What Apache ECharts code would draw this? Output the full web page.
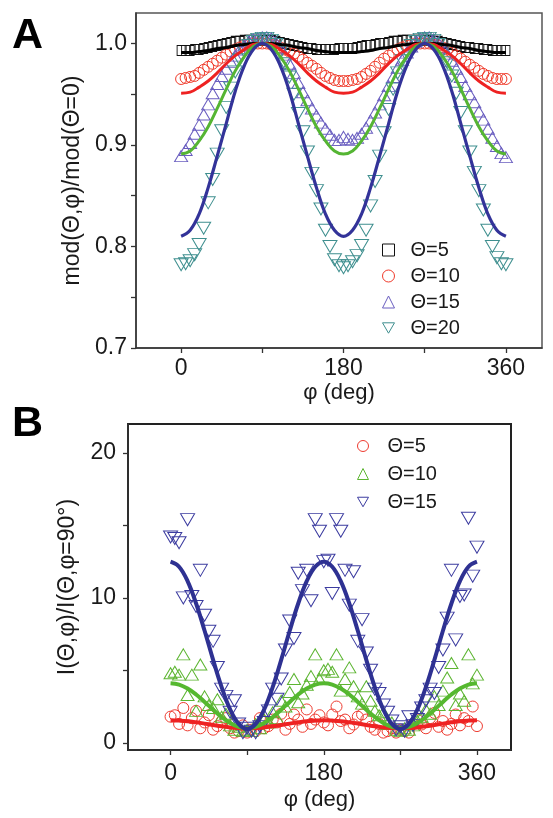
<!DOCTYPE html>
<html>
<head>
<meta charset="utf-8">
<script src="https://cdn.jsdelivr.net/npm/echarts@6/dist/echarts.min.js"></script>
<style>
html,body{margin:0;padding:0;background:#fff;}
#chart{width:553px;height:818px;}
</style>
</head>
<body>
<div id="chart"></div>
<script>
// ---------- data ----------
const phiData = [0,5,10,15,20,25,30,35,40,45,50,55,60,65,70,75,80,85,90,95,100,105,110,115,120,125,130,135,140,145,150,155,160,165,170,175,180,185,190,195,200,205,210,215,220,225,230,235,240,245,250,255,260,265,270,275,280,285,290,295,300,305,310,315,320,325,330,335,340,345,350,355,360];
const phiFit = [0,10,20,30,40,50,60,70,80,90,100,110,120,130,140,150,160,170,180,190,200,210,220,230,240,250,260,270,280,290,300,310,320,330,340,350,360];

// Panel A measured ratios
const aTheta5 = [0.993,0.993,0.993,0.994,0.994,0.995,0.996,0.997,0.998,0.999,1.000,1.001,1.002,1.002,1.003,1.003,1.003,1.003,1.003,
  1.003,1.003,1.002,1.001,1.000,0.999,0.998,0.997,0.996,0.995,0.995,0.994,0.994,0.994,0.994,0.994,0.995,0.995,
  0.995,0.995,0.996,0.997,0.998,0.998,0.999,1.000,1.000,1.001,1.002,1.002,1.003,1.003,1.003,1.003,1.003,1.003,
  1.003,1.002,1.002,1.001,1.000,0.999,0.998,0.997,0.996,0.996,0.995,0.995,0.994,0.994,0.993,0.993,0.993,0.993];
const aTheta10 = [0.965,0.966,0.967,0.968,0.971,0.974,0.977,0.980,0.983,0.986,0.989,0.992,0.994,0.996,0.998,0.999,1.000,1.000,1.000,
  1.000,0.999,0.998,0.996,0.994,0.992,0.990,0.987,0.984,0.981,0.978,0.975,0.971,0.968,0.966,0.964,0.963,0.963,
  0.963,0.964,0.965,0.967,0.970,0.973,0.977,0.981,0.985,0.988,0.991,0.994,0.996,0.998,0.999,1.000,1.000,1.000,
  1.000,0.999,0.998,0.996,0.994,0.991,0.988,0.985,0.982,0.979,0.976,0.973,0.970,0.968,0.966,0.965,0.965,0.965];
const aTheta15 = [0.889,0.895,0.902,0.911,0.920,0.930,0.940,0.951,0.960,0.968,0.975,0.982,0.988,0.994,0.998,1.002,1.004,1.005,1.006,
  1.006,1.005,1.001,0.996,0.989,0.980,0.971,0.961,0.952,0.944,0.936,0.929,0.922,0.916,0.910,0.905,0.905,0.908,
  0.906,0.905,0.907,0.911,0.917,0.924,0.932,0.940,0.949,0.958,0.967,0.976,0.984,0.991,0.997,1.002,1.005,1.006,
  1.006,1.004,1.001,0.996,0.990,0.983,0.975,0.967,0.958,0.950,0.942,0.933,0.925,0.916,0.907,0.899,0.892,0.888];
const aTheta20 = [0.782,0.783,0.786,0.792,0.802,0.818,0.843,0.866,0.891,0.914,0.937,0.956,0.972,0.984,0.992,0.998,1.002,1.004,1.005,
  1.005,1.003,0.999,0.991,0.980,0.967,0.950,0.931,0.913,0.893,0.872,0.855,0.837,0.816,0.800,0.787,0.781,0.779,
  0.781,0.785,0.791,0.801,0.816,0.840,0.864,0.889,0.912,0.935,0.955,0.971,0.983,0.992,0.998,1.002,1.004,1.005,
  1.005,1.003,0.999,0.992,0.981,0.968,0.951,0.932,0.913,0.893,0.873,0.855,0.836,0.816,0.800,0.789,0.783,0.782];
// Panel A fits
const aFit5  = [0.991,0.991,0.992,0.993,0.995,0.996,0.998,0.999,1.000,1.000,1.000,0.999,0.998,0.996,0.995,0.993,0.992,0.991,0.991,
  0.991,0.992,0.993,0.995,0.996,0.998,0.999,1.000,1.000,1.000,0.999,0.998,0.996,0.995,0.993,0.992,0.991,0.991];
const aFit10 = [0.951,0.952,0.957,0.963,0.971,0.980,0.988,0.994,0.999,1.000,0.999,0.994,0.988,0.980,0.971,0.963,0.957,0.952,0.951,
  0.952,0.957,0.963,0.971,0.980,0.988,0.994,0.999,1.000,0.999,0.994,0.988,0.980,0.971,0.963,0.957,0.952,0.951];
const aFit15 = [0.891,0.894,0.904,0.918,0.936,0.955,0.973,0.987,0.997,1.000,0.997,0.987,0.973,0.955,0.936,0.918,0.904,0.894,0.891,
  0.894,0.904,0.918,0.936,0.955,0.973,0.987,0.997,1.000,0.997,0.987,0.973,0.955,0.936,0.918,0.904,0.894,0.891];
const aFit20 = [0.810,0.816,0.832,0.858,0.889,0.921,0.953,0.978,0.994,1.000,0.994,0.978,0.953,0.921,0.889,0.858,0.832,0.816,0.810,
  0.816,0.832,0.858,0.889,0.921,0.953,0.978,0.994,1.000,0.994,0.978,0.953,0.921,0.889,0.858,0.832,0.816,0.810];

// Panel B measured intensities
const bTheta5 = [1.8,1.9,1.3,2.4,1.2,1.7,2.2,1.0,1.4,1.9,0.9,1.15,1.5,1.7,1.0,0.7,0.8,1.2,0.7,
  0.9,0.8,1.7,1.0,1.15,1.6,1.4,2.0,0.9,1.3,1.95,1.6,1.1,2.3,1.3,1.6,1.9,1.4,
  1.2,1.95,2.5,1.5,1.6,1.0,1.26,1.8,1.95,1.6,1.1,0.9,1.3,0.7,0.8,1.0,0.7,0.9,
  0.8,0.7,1.3,1.6,1.26,1.0,1.7,2.06,1.1,1.5,0.9,1.3,1.95,1.2,1.7,1.5,2.5,1.15];
const bTheta10 = [4.8,4.9,4.7,6.1,3.3,4.7,2.2,5.4,3.2,2.6,2.4,3.0,1.8,2.0,1.2,0.9,1.1,0.8,0.9,
  0.8,1.3,1.0,1.6,1.4,2.1,1.7,2.9,2.5,3.5,4.4,2.8,3.4,4.0,4.6,6.1,4.4,5.0,
  5.1,4.9,6.1,3.6,4.4,5.2,3.9,3.2,2.7,3.9,2.9,2.2,1.9,2.1,1.3,1.4,0.9,0.8,
  1.0,0.9,1.2,1.5,1.8,2.3,2.0,3.2,2.6,3.6,4.5,5.5,2.6,3.4,2.9,6.1,4.1,4.7];
const bTheta15 = [14.2,14.1,13.8,10.0,15.4,10.1,9.4,11.9,8.8,7.7,7.0,5.2,3.7,3.2,2.1,2.9,1.3,0.7,1.0,
  0.8,0.7,1.1,1.4,2.2,3.7,3.0,4.4,6.4,8.4,7.2,11.7,10.5,11.9,9.8,15.4,14.6,12.5,
  12.6,10.3,15.4,14.6,11.9,9.5,11.8,7.0,8.5,6.2,5.0,3.7,3.4,2.6,2.1,1.5,0.9,1.1,
  0.8,1.8,1.2,1.6,2.4,2.9,3.7,3.4,5.2,6.4,8.6,11.9,7.1,10.1,10.2,15.5,11.5,13.5];
// Panel B fits
const bFit5  = [1.55,1.53,1.49,1.41,1.32,1.23,1.14,1.06,1.02,1.00,1.02,1.06,1.14,1.23,1.32,1.41,1.49,1.53,1.55,
  1.53,1.49,1.41,1.32,1.23,1.14,1.06,1.02,1.00,1.02,1.06,1.14,1.23,1.32,1.41,1.49,1.53,1.55];
const bFit10 = [4.10,4.01,3.74,3.33,2.82,2.28,1.78,1.36,1.09,1.00,1.09,1.36,1.78,2.28,2.82,3.33,3.74,4.01,4.10,
  4.01,3.74,3.33,2.82,2.28,1.78,1.36,1.09,1.00,1.09,1.36,1.78,2.28,2.82,3.33,3.74,4.01,4.10];
const bFit15 = [12.50,12.15,11.15,9.61,7.73,5.72,3.84,2.30,1.30,0.95,1.30,2.30,3.84,5.72,7.73,9.61,11.15,12.15,12.50,
  12.15,11.15,9.61,7.73,5.72,3.84,2.30,1.30,0.95,1.30,2.30,3.84,5.72,7.73,9.61,11.15,12.15,12.50];

// axis ticks / labels
const xTicks = [0,90,180,270,360];
const xLabels = [0,180,360];
const aYTicks = [0.7,0.75,0.8,0.85,0.9,0.95,1.0];
const aYLabels = [0.7,0.8,0.9,1.0];
const bYTicks = [0,5,10,15,20];
const bYLabels = [0,10,20];
const namesA = ['Θ=5','Θ=10','Θ=15','Θ=20'];
const namesB = ['Θ=5','Θ=10','Θ=15'];

// ---------- chart ----------
const FONT = "'Liberation Sans', Arial, sans-serif";
const pairs = (xs, ys) => xs.map((x, i) => [x, ys[i]]);
const DOWN_TRI = 'path://M0,0 L10,0 L5,8.66 Z';

function scatter(name, xi, yi, data, symbol, size, color) {
  return {
    name, type: 'scatter', xAxisIndex: xi, yAxisIndex: yi, data,
    symbol, symbolSize: size, z: 2,
    itemStyle: { color: 'rgba(255,255,255,0)', borderColor: color, borderWidth: 1, opacity: 1 },
    emphasis: { disabled: true }, silent: true
  };
}
function fit(xi, yi, data, color, width) {
  return {
    type: 'line', xAxisIndex: xi, yAxisIndex: yi, data, smooth: 0.4,
    showSymbol: false, symbol: 'none', z: 5,
    lineStyle: { color, width }, emphasis: { disabled: true }, silent: true
  };
}
const axisCommon = {
  axisLine: { show: true, onZero: false, lineStyle: { color: '#333', width: 1.5 } },
  axisTick: { show: true, inside: false, length: 5, lineStyle: { color: '#333', width: 1.3 } },
  splitLine: { show: false },
};
function xAx(gi, gap, lm) {
  return Object.assign({}, axisCommon, {
    type: 'value', gridIndex: gi, min: -50, max: 400,
    axisTick: Object.assign({}, axisCommon.axisTick, { customValues: xTicks }),
    axisLabel: { customValues: xLabels, fontFamily: FONT, fontSize: 23, color: '#1a1a1a', margin: lm },
    name: 'φ (deg)', nameLocation: 'middle', nameGap: gap,
    nameTextStyle: { fontFamily: FONT, fontSize: 22, color: '#1a1a1a' }
  });
}
function yAx(gi, min, max, ticks, labels, fmt, name, gap, lm) {
  return Object.assign({}, axisCommon, {
    type: 'value', gridIndex: gi, min, max,
    axisTick: Object.assign({}, axisCommon.axisTick, { customValues: ticks }),
    axisLabel: { customValues: labels, formatter: fmt, fontFamily: FONT, fontSize: 23, color: '#1a1a1a', margin: lm },
    name, nameLocation: 'middle', nameGap: gap,
    nameTextStyle: { fontFamily: FONT, fontSize: 23, color: '#1a1a1a' }
  });
}

const chart = echarts.init(document.getElementById('chart'), null, { renderer: 'canvas' });
chart.setOption({
  animation: false,
  backgroundColor: '#fff',
  grid: [
    { left: 136, right: 11, top: 13, height: 335, show: true, borderColor: '#555', borderWidth: 1.5, backgroundColor: 'transparent' },
    { left: 128, right: 42, top: 424, height: 326, show: true, borderColor: '#222', borderWidth: 2, backgroundColor: 'transparent' }
  ],
  xAxis: [xAx(0, 34, 9), xAx(1, 39, 12)],
  yAxis: [
    yAx(0, 0.7, 1.03, aYTicks, aYLabels, v => v.toFixed(1), 'mod(Θ,φ)/mod(Θ=0)', 52, 9),
    yAx(1, -0.5, 22, bYTicks, bYLabels, v => String(v), 'I(Θ,φ)/I(Θ,φ=90°)', 44, 12)
  ],
  legend: [
    {
      data: namesA.map(n => n + ' '), orient: 'vertical', left: 377, top: 234,
      itemWidth: 12, itemHeight: 12, itemGap: 4, symbolKeepAspect: true,
      itemStyle: { borderWidth: 1 },
      textStyle: { fontFamily: FONT, fontSize: 20, color: '#1a1a1a', lineHeight: 22, padding: [0, 0, 0, 11] },
      selectedMode: false
    },
    {
      data: namesB.map(n => n + '  '), orient: 'vertical', left: 352, top: 430,
      itemWidth: 11, itemHeight: 11, itemGap: 6, symbolKeepAspect: true,
      itemStyle: { borderWidth: 1 },
      textStyle: { fontFamily: FONT, fontSize: 20, color: '#1a1a1a', lineHeight: 22, padding: [0, 0, 0, 14] },
      selectedMode: false
    }
  ],
  graphic: [
    { type: 'text', left: 12, top: 15, style: { text: 'A', font: "bold 43px 'Liberation Sans', Arial, sans-serif", fill: '#000' } },
    { type: 'text', left: 12, top: 403, style: { text: 'B', font: "bold 43px 'Liberation Sans', Arial, sans-serif", fill: '#000' } }
  ],
  series: [
    scatter(namesA[0] + ' ', 0, 0, pairs(phiData, aTheta5), 'rect', [8, 10], '#111'),
    scatter(namesA[1] + ' ', 0, 0, pairs(phiData, aTheta10), 'circle', 11, '#f03a2a'),
    scatter(namesA[2] + ' ', 0, 0, pairs(phiData, aTheta15), 'triangle', [13, 11], '#6a5ec0'),
    scatter(namesA[3] + ' ', 0, 0, pairs(phiData, aTheta20), DOWN_TRI, [14, 12], '#3f8f8f'),
    fit(0, 0, pairs(phiFit, aFit5), '#000', 3),
    fit(0, 0, pairs(phiFit, aFit10), '#ee2222', 3),
    fit(0, 0, pairs(phiFit, aFit15), '#55b533', 3),
    fit(0, 0, pairs(phiFit, aFit20), '#333399', 3.2),
    scatter(namesB[0] + '  ', 1, 1, pairs(phiData, bTheta5), 'circle', 11, '#ee3b30'),
    scatter(namesB[1] + '  ', 1, 1, pairs(phiData, bTheta10), 'triangle', [13, 11], '#5cb531'),
    scatter(namesB[2] + '  ', 1, 1, pairs(phiData, bTheta15), DOWN_TRI, [14, 12], '#3c3ca0'),
    fit(1, 1, pairs(phiFit, bFit5), '#ee2222', 4),
    fit(1, 1, pairs(phiFit, bFit10), '#55b82f', 4),
    fit(1, 1, pairs(phiFit, bFit15), '#2e3192', 4)
  ]
});
</script>
</body>
</html>
